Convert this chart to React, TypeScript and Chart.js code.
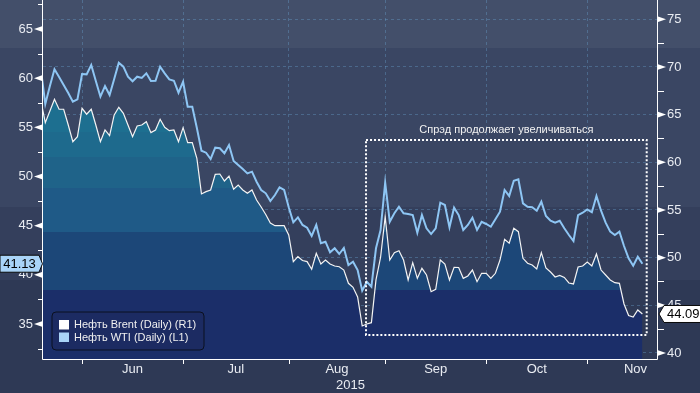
import React, { useEffect, useRef } from 'react';
import { Chart, registerables } from 'chart.js';

Chart.register(...registerables);

// Daily (weekday-indexed) prices, index 0 = 19 May 2015
const brent = [
  66.54, 64.15, 65.38, 66.61, 65.56, 65.56, 63.91, 62.16, 62.69, 65.66,
  65.04, 65.56, 63.91, 62.16, 63.39, 62.79, 64.96, 65.77, 65.14, 63.91,
  62.69, 63.81, 63.91, 64.26, 63.11, 63.39, 64.51, 63.67, 63.32, 63.39,
  62.16, 63.63, 62.06, 62.06, 60.42, 56.68, 56.92, 57.10, 58.74, 58.77,
  58.04, 58.56, 57.17, 57.62, 57.10, 56.75, 57.10, 56.05, 55.31, 54.53,
  53.63, 53.35, 53.35, 53.35, 52.38, 49.58, 50.10, 49.70, 49.58, 48.78,
  50.46, 49.33, 49.75, 49.33, 49.12, 49.05, 48.70, 47.31, 46.89, 45.87,
  42.83, 43.04, 43.18, 47.66, 50.04, 54.30, 49.75, 50.52, 50.73, 49.75,
  47.66, 49.47, 47.83, 48.88, 48.18, 46.43, 46.68, 49.75, 49.33, 47.66,
  48.99, 48.97, 47.83, 48.08, 48.70, 47.48, 48.36, 48.36, 47.83, 48.36,
  49.75, 51.92, 51.51, 53.08, 52.72, 49.93, 49.41, 49.23, 48.81, 50.52,
  48.91, 48.49, 47.97, 48.13, 47.92, 47.34, 47.24, 49.02, 49.12, 49.54,
  49.12, 50.38, 48.70, 48.18, 47.66, 47.37, 47.31, 45.14, 43.93, 43.77,
  44.51, 44.09,
];

const wti = [
  61.03, 57.37, 59.20, 60.90, 60.12, 59.30, 58.49, 57.61, 57.85, 60.42,
  60.39, 61.34, 59.71, 58.12, 59.20, 58.29, 59.92, 61.57, 61.17, 60.15,
  59.68, 60.15, 60.02, 60.49, 59.71, 59.74, 61.17, 60.49, 59.88, 59.74,
  58.52, 59.64, 57.10, 57.10, 54.93, 52.62, 52.42, 51.78, 52.93, 52.87,
  52.36, 53.20, 51.58, 51.17, 50.76, 50.32, 50.49, 49.47, 48.63, 48.29,
  47.51, 48.12, 48.90, 48.63, 46.87, 45.34, 45.85, 45.07, 44.79, 43.95,
  45.07, 43.21, 43.37, 42.29, 42.70, 42.12, 42.73, 41.00, 41.33, 40.49,
  38.39, 39.30, 38.79, 42.70, 44.56, 49.37, 45.40, 46.26, 46.93, 46.26,
  46.19, 46.08, 44.28, 46.08, 44.73, 44.15, 44.73, 47.34, 47.10, 44.83,
  46.83, 46.08, 44.56, 45.07, 45.81, 44.56, 45.40, 45.17, 44.89, 45.65,
  46.42, 48.63, 48.02, 49.57, 49.71, 47.27, 46.93, 46.87, 46.52, 47.44,
  45.98, 45.50, 45.30, 45.50, 44.73, 44.05, 43.44, 46.08, 46.32, 46.66,
  46.36, 48.02, 46.52, 45.30, 44.39, 44.05, 44.39, 42.93, 41.68, 40.93,
  41.84, 41.13,
];

const monthNames = ['Jun', 'Jul', 'Aug', 'Sep', 'Oct', 'Nov'];
// weekday index of the first trading day of each month (last entry = Dec 1)
const monthStarts = [9, 31, 54, 75, 97, 119, 140];
const leftTicks = [35, 40, 45, 50, 55, 60, 65];
const rightTicks = [40, 45, 50, 55, 60, 65, 70, 75];
const yearLabel = '2015';
const seriesNames = ['Нефть Brent (Daily) (R1)', 'Нефть WTI (Daily) (L1)'];
const noteText = 'Спрэд продолжает увеличиваться';
// annotation frame in data units (x = weekday index, y = right axis)
const noteFrame = { xFrom: 70.83, xTo: 131.94, yTop: 62.34, yBottom: 41.89 };

const FONT = "'Liberation Sans', Arial, Helvetica, sans-serif";
const BLUE = '#8ec6f4';
const WHITE = '#f4f4f4';
const GRID = 'rgba(110,170,215,0.35)';
const TEXT = '#e9ecf2';

const noPad = (s: any) => {
  s.paddingTop = 0;
  s.paddingBottom = 0;
  s.paddingLeft = 0;
  s.paddingRight = 0;
};

const decorPlugin = {
  id: 'decor',
  beforeDraw(chart: any) {
    const { ctx, width, height } = chart;
    const bands: [number, number, string][] = [
      [0, 48, '#434f6a'],
      [48, 207, '#3a4663'],
      [207, 280, '#343f5c'],
      [280, height, '#2e3955'],
    ];
    ctx.save();
    bands.forEach(([a, b, c]) => {
      ctx.fillStyle = c;
      ctx.fillRect(0, a, width, b - a);
    });
    ctx.restore();
  },
  afterDraw(chart: any) {
    const { ctx, chartArea: area, scales } = chart;
    const x = scales.x;
    const yL = scales.y;
    const yR = scales.y1;
    ctx.save();

    // axis lines
    ctx.strokeStyle = '#ffffff';
    ctx.lineWidth = 1;
    ctx.beginPath();
    ctx.moveTo(area.left - 0.5, 0);
    ctx.lineTo(area.left - 0.5, area.bottom + 0.5);
    ctx.moveTo(area.right - 0.5, 0);
    ctx.lineTo(area.right - 0.5, area.bottom + 0.5);
    ctx.moveTo(area.left - 0.5, area.bottom + 0.5);
    ctx.lineTo(area.right - 0.5, area.bottom + 0.5);
    ctx.stroke();

    // month boundary tick marks
    ctx.beginPath();
    monthStarts.slice(0, -1).forEach((m) => {
      const px = Math.round(x.getPixelForValue(m)) + 0.5;
      ctx.moveTo(px, area.bottom);
      ctx.lineTo(px, area.bottom + 5);
    });
    ctx.stroke();

    // left axis pointers and minor ticks
    ctx.fillStyle = '#ffffff';
    leftTicks.forEach((v) => {
      const py = yL.getPixelForValue(v);
      ctx.beginPath();
      ctx.moveTo(area.left - 1, py - 2.8);
      ctx.lineTo(area.left - 9, py);
      ctx.lineTo(area.left - 1, py + 2.8);
      ctx.closePath();
      ctx.fill();
      const pm = Math.round(yL.getPixelForValue(v - 2.5)) + 0.5;
      if (pm > 0 && pm < area.bottom) {
        ctx.beginPath();
        ctx.moveTo(area.left - 5, pm);
        ctx.lineTo(area.left, pm);
        ctx.stroke();
      }
    });
    const topMinorL = Math.round(yL.getPixelForValue(leftTicks[leftTicks.length - 1] + 2.5)) + 0.5;
    if (topMinorL > 0) {
      ctx.beginPath();
      ctx.moveTo(area.left - 5, topMinorL);
      ctx.lineTo(area.left, topMinorL);
      ctx.stroke();
    }

    // right axis pointers and minor ticks
    rightTicks.forEach((v) => {
      const py = yR.getPixelForValue(v);
      ctx.beginPath();
      ctx.moveTo(area.right, py - 2.8);
      ctx.lineTo(area.right + 8, py);
      ctx.lineTo(area.right, py + 2.8);
      ctx.closePath();
      ctx.fill();
      const pm = Math.round(yR.getPixelForValue(v + 2.5)) + 0.5;
      if (pm > 0 && pm < area.bottom) {
        ctx.beginPath();
        ctx.moveTo(area.right, pm);
        ctx.lineTo(area.right + 6, pm);
        ctx.stroke();
      }
    });

    // annotation frame
    const fx0 = x.getPixelForValue(noteFrame.xFrom);
    const fx1 = x.getPixelForValue(noteFrame.xTo);
    const fy0 = yR.getPixelForValue(noteFrame.yTop);
    const fy1 = yR.getPixelForValue(noteFrame.yBottom);
    ctx.strokeStyle = '#ffffff';
    ctx.lineWidth = 2;
    ctx.setLineDash([2, 2]);
    ctx.strokeRect(fx0, fy0, fx1 - fx0, fy1 - fy0);
    ctx.setLineDash([]);
    ctx.fillStyle = '#f2f2f2';
    ctx.font = `11px ${FONT}`;
    ctx.textAlign = 'center';
    ctx.textBaseline = 'middle';
    ctx.fillText(noteText, (fx0 + fx1) / 2, fy0 - 10);

    // legend
    const lx = area.left + 9;
    const ly = area.bottom - 47;
    const lw = 152;
    const lh = 38;
    ctx.beginPath();
    const r = 4;
    ctx.moveTo(lx + r, ly);
    ctx.arcTo(lx + lw, ly, lx + lw, ly + lh, r);
    ctx.arcTo(lx + lw, ly + lh, lx, ly + lh, r);
    ctx.arcTo(lx, ly + lh, lx, ly, r);
    ctx.arcTo(lx, ly, lx + lw, ly, r);
    ctx.closePath();
    ctx.fillStyle = '#1c2b62';
    ctx.fill();
    ctx.strokeStyle = '#0b1020';
    ctx.lineWidth = 1;
    ctx.stroke();
    const swatches = ['#ffffff', '#a9d3f7'];
    ctx.font = `11px ${FONT}`;
    ctx.textAlign = 'left';
    ctx.textBaseline = 'middle';
    seriesNames.forEach((name, k) => {
      const sy = ly + 8 + k * 12.5;
      ctx.fillStyle = swatches[k];
      ctx.fillRect(lx + 7, sy, 10, 9.5);
      ctx.fillStyle = '#f0f0f0';
      ctx.fillText(name, lx + 22, sy + 5);
    });

    // last value labels
    const drawTag = (value: number, py: number, side: 'left' | 'right', fill: string) => {
      const h = 17;
      ctx.beginPath();
      if (side === 'left') {
        const bx1 = area.left - 4;
        ctx.moveTo(0, py - h / 2);
        ctx.lineTo(bx1, py - h / 2);
        ctx.lineTo(area.left - 0.5, py);
        ctx.lineTo(bx1, py + h / 2);
        ctx.lineTo(0, py + h / 2);
      } else {
        const bx0 = area.right + 6;
        ctx.moveTo(area.right + 1, py);
        ctx.lineTo(bx0, py - h / 2);
        ctx.lineTo(chart.width + 2, py - h / 2);
        ctx.lineTo(chart.width + 2, py + h / 2);
        ctx.lineTo(bx0, py + h / 2);
      }
      ctx.closePath();
      ctx.fillStyle = fill;
      ctx.fill();
      ctx.strokeStyle = '#0a0a0a';
      ctx.lineWidth = 1;
      ctx.stroke();
      ctx.fillStyle = '#000000';
      ctx.font = `13px ${FONT}`;
      ctx.textBaseline = 'middle';
      if (side === 'left') {
        ctx.textAlign = 'center';
        ctx.fillText(value.toFixed(2), (area.left - 4) / 2, py + 0.5);
      } else {
        ctx.textAlign = 'left';
        ctx.fillText(value.toFixed(2), area.right + 9, py + 0.5);
      }
    };
    const lastW = wti[wti.length - 1];
    const lastB = brent[brent.length - 1];
    drawTag(lastW, yL.getPixelForValue(lastW), 'left', '#a9d4f8');
    drawTag(lastB, yR.getPixelForValue(lastB), 'right', '#ffffff');

    ctx.restore();
  },
};

export default function App() {
  const ref = useRef<HTMLCanvasElement>(null);
  useEffect(() => {
    document.body.style.margin = '0';
    const canvas = ref.current!;
    const mids = monthNames.map((_, k) => (monthStarts[k] + monthStarts[k + 1]) / 2);
    const bounds = monthStarts.slice(0, -1);

    const fillBands = (context: any) => {
      const chart = context.chart;
      const area = chart.chartArea;
      if (!area) return 'rgba(0,0,0,0)';
      const h = area.bottom - area.top;
      const g = chart.ctx.createLinearGradient(0, area.top, 0, area.bottom);
      const stops: [number, number, string][] = [
        [0, 132, '#1d6f90'],
        [132, 157, '#1e6a8d'],
        [157, 188, '#1f6389'],
        [188, 232, '#1f5a87'],
        [232, 290, '#1c4778'],
        [290, 359, '#1b2e69'],
      ];
      stops.forEach(([a, b, c]) => {
        g.addColorStop(Math.min(1, a / h), c);
        g.addColorStop(Math.min(1, b / h), c);
      });
      return g;
    };

    const chart = new Chart(canvas, {
      type: 'line',
      data: {
        datasets: [
          {
            label: seriesNames[1],
            data: wti.map((v, i) => ({ x: i, y: v })),
            yAxisID: 'y',
            borderColor: BLUE,
            borderWidth: 2,
            pointRadius: 0,
            fill: false,
            tension: 0,
            order: 1,
          },
          {
            label: seriesNames[0],
            data: brent.map((v, i) => ({ x: i, y: v })),
            yAxisID: 'y1',
            borderColor: WHITE,
            borderWidth: 1.2,
            pointRadius: 0,
            fill: 'start',
            backgroundColor: fillBands,
            tension: 0,
            order: 2,
          },
        ],
      },
      options: {
        animation: false,
        responsive: false,
        devicePixelRatio: 1,
        layout: { padding: 0 },
        plugins: { legend: { display: false }, tooltip: { enabled: false } },
        scales: {
          x: {
            type: 'linear',
            min: 0.5,
            max: 134.4,
            bounds: 'data',
            z: 1,
            afterBuildTicks: (s: any) => {
              s.ticks = [...bounds, ...mids].sort((a, b) => a - b).map((v) => ({ value: v }));
            },
            ticks: {
              autoSkip: false,
              maxRotation: 0,
              color: TEXT,
              font: { family: FONT, size: 13 },
              padding: 3,
              callback: (v: any) => {
                const k = mids.indexOf(Number(v));
                return k >= 0 ? monthNames[k] : '';
              },
            },
            grid: {
              drawTicks: false,
              lineWidth: 1,
              color: (c: any) => (c.tick && bounds.includes(c.tick.value) ? GRID : 'rgba(0,0,0,0)'),
            },
            border: { display: false, dash: [3, 3] },
            title: {
              display: true,
              text: yearLabel,
              color: TEXT,
              font: { family: FONT, size: 13 },
              padding: { top: 0, bottom: 0 },
            },
            afterFit: (s: any) => {
              s.height = 34;
              noPad(s);
            },
          },
          y: {
            type: 'linear',
            position: 'left',
            min: 31.44,
            max: 67.95,
            bounds: 'data',
            afterBuildTicks: (s: any) => {
              s.ticks = leftTicks.map((v) => ({ value: v }));
            },
            ticks: { color: TEXT, font: { family: FONT, size: 13 }, padding: 10 },
            grid: { display: false, drawTicks: false },
            border: { display: false },
            afterFit: (s: any) => {
              s.width = 43;
              noPad(s);
            },
          },
          y1: {
            type: 'linear',
            position: 'right',
            min: 39.37,
            max: 77.02,
            bounds: 'data',
            z: 1,
            afterBuildTicks: (s: any) => {
              s.ticks = rightTicks.map((v) => ({ value: v }));
            },
            ticks: { color: TEXT, font: { family: FONT, size: 13 }, padding: 9 },
            grid: { color: GRID, drawTicks: false, lineWidth: 1 },
            border: { display: false, dash: [3, 3] },
            afterFit: (s: any) => {
              s.width = 42;
              noPad(s);
            },
          },
        },
      },
      plugins: [decorPlugin],
    });
    return () => chart.destroy();
  }, []);

  return (
    <div style={{ width: 700, height: 393 }}>
      <canvas ref={ref} width={700} height={393} style={{ display: 'block' }} />
    </div>
  );
}
